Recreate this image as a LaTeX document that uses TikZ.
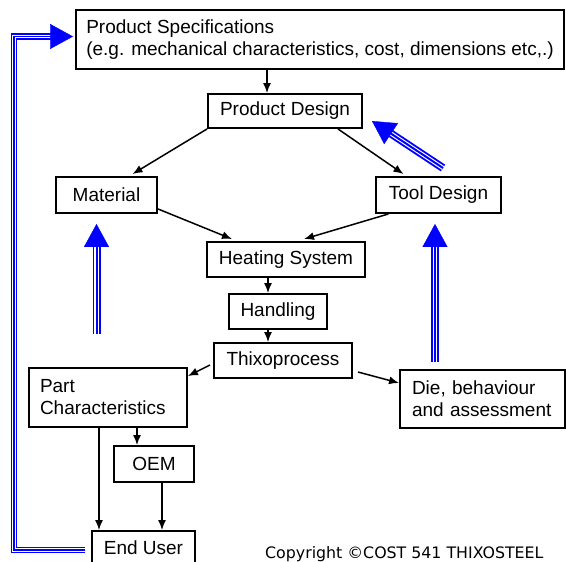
\documentclass[tikz,border=0pt]{standalone}
\usepackage{fontspec}
\setmainfont{Liberation Sans}
\newfontfamily\copyfont{DejaVu Sans}
\usetikzlibrary{arrows.meta}

% three-stripe blue arrow: outer blue, white gap, inner blue, then a solid head
\newcommand\stripearrow[4]{%
  \draw[stripe=#1] #4;
  \draw[stripe gap=#2] #4;
  \draw[stripe=#3] #4;
  \draw[stripe head] #4;
}

\begin{document}
\begin{tikzpicture}[x=1pt,y=-1pt,
  box/.style={draw, line width=1.9pt, inner sep=0pt, font=\fontsize{19}{22}\selectfont},
  flow/.style={line width=1.5pt, -{Latex[length=10pt,width=8pt]}},
  stripe/.style={draw=blue, line width=#1, shorten >=20pt},
  stripe gap/.style={draw=white, line width=#1, shorten >=20pt},
  stripe head/.style={draw=blue, line width=0.4pt, -{Triangle[length=23pt,width=25pt]}},
]
\useasboundingbox (0,0) rectangle (566,562);
\fill[white] (0,0) rectangle (566,562);
\clip (0,0) rectangle (566,562);

% boxes
\node[box, minimum width=488, minimum height=59, align=left] (spec) at (320,39.5)
  {Product Specifications\\(e.g. mechanical characteristics, cost, dimensions etc,.)};
\node[box, minimum width=154, minimum height=34] (pd) at (285,111) {Product Design};
\node[box, minimum width=101, minimum height=36] (material) at (106.5,195) {Material};
\node[box, minimum width=125, minimum height=36] (tool) at (438.5,195) {Tool Design};
\node[box, minimum width=158, minimum height=35] (heating) at (286,259.5) {Heating System};
\node[box, minimum width=98, minimum height=35] (handling) at (278,311.5) {Handling};
\node[box, minimum width=138, minimum height=35] (thixo) at (283,360.5) {Thixoprocess};
\node[box, minimum width=158, minimum height=59, text width=136, align=left] (part) at (108,397.5)
  {Part\\Characteristics};
\node[box, minimum width=165, minimum height=58, text width=141, align=left] (die) at (482.5,399)
  {Die, behaviour\\and assessment};
\node[box, minimum width=80, minimum height=36] (oem) at (154,464) {OEM};
\node[box, minimum width=103, minimum height=34] (enduser) at (143.5,548) {End User};

% flow connectors
\draw[flow] ([xshift=-53]spec.south) -- ([xshift=-18]pd.north);
\draw[flow] (pd.south west) -- ([xshift=26,yshift=2]material.north);
\draw[flow] ([xshift=-25]pd.south east) -- ([xshift=-35,yshift=2]tool.north);
\draw[flow] ([yshift=5]material.south east) -- ([xshift=-54,yshift=2]heating.north);
\draw[flow] ([xshift=-50]tool.south) -- ([xshift=18,yshift=2]heating.north);
\draw[flow] ([xshift=-18]heating.south) -- ([xshift=-10]handling.north);
\draw[flow] ([xshift=-10]handling.south) -- ([xshift=-15]thixo.north);
\draw[flow] ([xshift=-3,yshift=-4.5]thixo.west) -- ([yshift=-9]part.north east);
\draw[flow] ([xshift=5,yshift=-11.5]thixo.east) -- ([yshift=16]die.west);
\draw[flow] ([xshift=29]part.south) -- ([xshift=-17]oem.north);
\draw[flow] ([xshift=-9]part.south) -- ([xshift=-44.5]enduser.north);
\draw[flow] ([xshift=8]oem.south) -- ([xshift=18.5]enduser.north);

% blue feedback arrows
\coordinate (fbstart) at ([xshift=-6,yshift=-2]enduser.west);
\coordinate (fbtop) at (14,36.5);
\coordinate (fbend) at ([xshift=-2,yshift=3]spec.west);
\stripearrow{6.5pt}{3.4pt}{1.6pt}{(fbstart) -| (fbtop) -- (fbend)}

\coordinate (matfoot) at (96.5,334);
\coordinate (mattip) at ([xshift=-10,yshift=-10]material.south);
\stripearrow{8pt}{4.2pt}{2pt}{(matfoot) -- (mattip)}

\coordinate (toolfoot) at (435,362);
\coordinate (tooltip) at ([xshift=-3.5,yshift=-10]tool.south);
\stripearrow{8pt}{4.2pt}{2pt}{(toolfoot) -- (tooltip)}

\coordinate (pdfoot) at (443,168);
\coordinate (pdtip) at ([xshift=9,yshift=-10]pd.east);
\stripearrow{8pt}{4.2pt}{2pt}{(pdfoot) -- (pdtip)}

% copyright line
\node[font=\copyfont\fontsize{15.8}{18}\selectfont, anchor=base west, inner sep=0pt] (copy) at (265,558)
  {Copyright ©COST 541 THIXOSTEEL};
\end{tikzpicture}
\end{document}
